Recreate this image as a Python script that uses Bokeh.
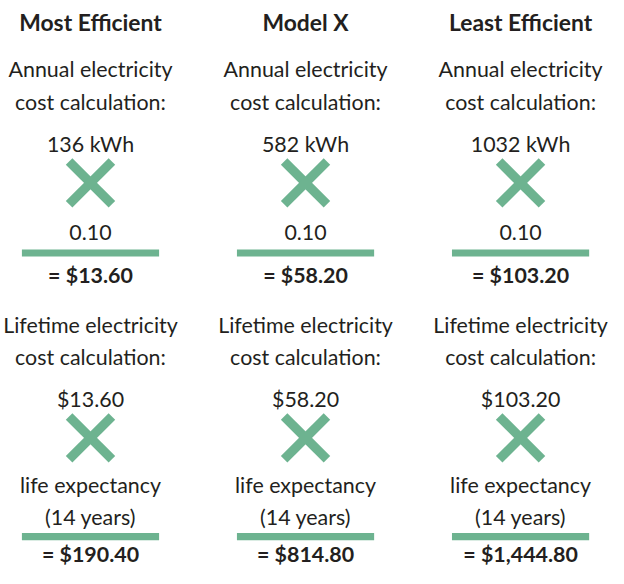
from bokeh.plotting import figure
from bokeh.models import Range1d, ColumnDataSource
from bokeh.core.properties import value
from bokeh.embed import file_html
from bokeh.resources import INLINE

# ---- data ----
models = ["Most Efficient", "Model X", "Least Efficient"]
annual_kwh = [136, 582, 1032]
rate = [0.10, 0.10, 0.10]
annual_cost = [13.60, 58.20, 103.20]
life_years = [14, 14, 14]
lifetime_cost = [190.40, 814.80, 1444.80]

# ---- layout (reference pixel units, uniformly scaled to fit) ----
W, H = 608, 568
S = 0.973                     # reference 624x584 -> 608x568
FONT = "Lato"
INK = "#231f20"
GREEN = "#6db390"
col_ref = [92.5, 313.5, 534.5]           # column centres in reference px
col_x = [c * S for c in col_ref]
TXT_SHIFT = 8.7                          # renderer draws alphabetic baseline this much lower


def Y(ref):
    return ref * S


p = figure(width=W, height=H, x_range=Range1d(0, W), y_range=Range1d(H, 0),
           output_backend="svg", toolbar_location=None, min_border=0)
p.axis.visible = False
p.grid.visible = False
p.outline_line_color = None
p.background_fill_color = "white"
p.border_fill_color = "white"


def money(v):
    return "${:,.2f}".format(v)


def texts(labels, yref, bold=False, size=22):
    fs = size * S
    src = ColumnDataSource(dict(x=col_x, y=[Y(yref) - TXT_SHIFT * fs / 22.0] * len(col_x), t=labels))
    p.text(x="x", y="y", text="t", source=src, text_font=value(FONT),
           text_font_size=value(f"{fs:.2f}px"),
           text_font_style="bold" if bold else "normal",
           text_color=INK, text_align="center", text_baseline="alphabetic")


def cross(yref_center):
    h = 22.0 * S
    yc = Y(yref_center)
    for (dx0, dy0, dx1, dy1) in [(-h, -h, h, h), (-h, h, h, -h)]:
        p.segment(x0=[c + dx0 for c in col_x], y0=[yc + dy0] * 3,
                  x1=[c + dx1 for c in col_x], y1=[yc + dy1] * 3,
                  line_color=GREEN, line_width=9.5 * S, line_cap="butt")


def bar(yref_center, h_ref):
    p.rect(x=col_x, y=[Y(yref_center)] * 3, width=141 * S, height=h_ref * S,
           fill_color=GREEN, line_color=None)


# titles
texts(models, 31, bold=True, size=23.5)

# annual calculation
texts(["Annual electricity"] * 3, 79.5)
texts(["cost calculation:"] * 3, 113)
texts([f"{k} kWh" for k in annual_kwh], 156)
cross(187.5)
texts([f"{r:.2f}" for r in rate], 247.5)
bar(259.5, 7)
texts(["= " + money(v) for v in annual_cost], 290.5, bold=True)

# lifetime calculation
texts(["Lifetime electricity"] * 3, 342)
texts(["cost calculation:"] * 3, 375)
texts([money(v) for v in annual_cost], 418)
cross(449.5)
texts(["life expectancy"] * 3, 507)
texts([f"({y} years)" for y in life_years], 540)
bar(551, 7.5)
texts(["= " + money(v) for v in lifetime_cost], 578, bold=True)

open("out.html", "w").write(file_html(p, INLINE))
